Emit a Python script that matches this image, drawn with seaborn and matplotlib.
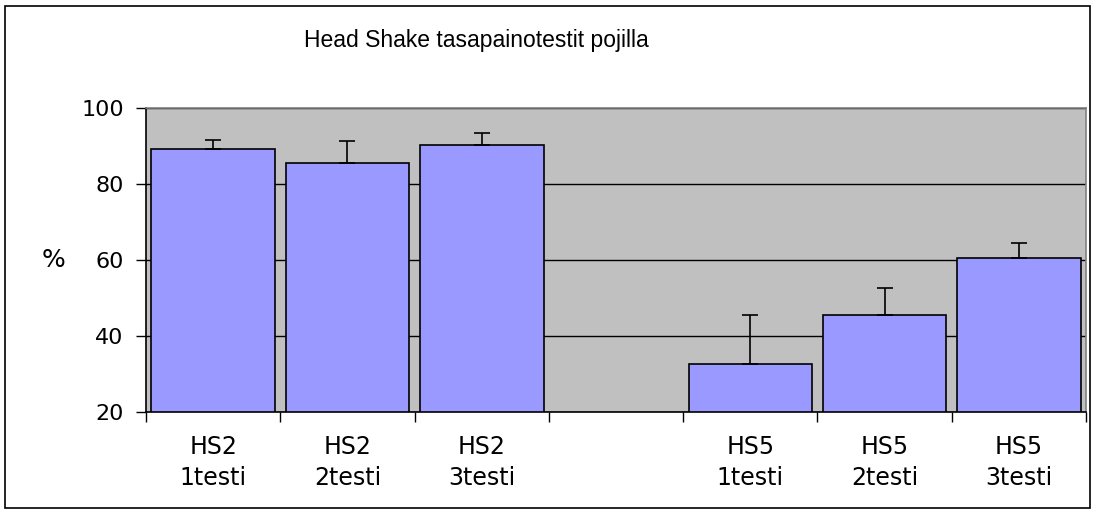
import numpy as np
import pandas as pd
import matplotlib
matplotlib.use("Agg")
import matplotlib.pyplot as plt
import seaborn as sns
from matplotlib.patches import Rectangle

categories = ["HS2\n1testi", "HS2\n2testi", "HS2\n3testi",
              "HS5\n1testi", "HS5\n2testi", "HS5\n3testi"]
values = [89.3, 85.6, 90.3, 32.8, 45.6, 60.6]
errors = [2.3, 5.6, 3.2, 12.8, 7.0, 3.9]
order = categories[:3] + [" "] + categories[3:]

df = pd.DataFrame({"test": categories, "pct": values})

sns.set_style("white")
plt.rcParams["font.family"] = ["DejaVu Sans"]
plt.rcParams["text.color"] = "black"
plt.rcParams["axes.labelcolor"] = "black"

fig = plt.figure(figsize=(10.97, 5.13), dpi=100)
ax = fig.add_axes([0.1331, 0.196, 0.8569, 0.5935])
ax.set_facecolor("#C0C0C0")

sns.barplot(data=df, x="test", y="pct", order=order, color="#9999FF",
            saturation=1, width=0.92, edgecolor="black", linewidth=1.2,
            errorbar=None, ax=ax)

# upper error bars only
xpos = [order.index(c) for c in categories]
ax.errorbar(xpos, values, yerr=[np.zeros(len(errors)), errors], fmt="none",
            ecolor="black", elinewidth=1.2, capsize=6, capthick=1.2, zorder=3)

ax.set_ylim(20, 100)
ax.set_xlim(-0.5, len(order) - 0.5)
ax.set_yticks([20, 40, 60, 80, 100])
ax.yaxis.grid(True, color="black", linewidth=1)
ax.set_axisbelow(True)

ax.set_xticks(range(len(order)))
ax.set_xticklabels(order, linespacing=1.4)
ax.set_xticks(np.arange(-0.5, len(order)), minor=True)
ax.tick_params(axis="x", which="major", length=0, pad=16, labelsize=17,
               labelcolor="black")
ax.tick_params(axis="x", which="minor", length=7, width=1, color="black",
               direction="out", bottom=True)
ax.tick_params(axis="y", length=7, width=1, color="black", direction="out",
               left=True, pad=9, labelsize=16, labelcolor="black")

for s in ["left", "bottom"]:
    ax.spines[s].set_color("black")
    ax.spines[s].set_linewidth(1.2)
for s in ["top", "right"]:
    ax.spines[s].set_color("#808080")
    ax.spines[s].set_linewidth(1.2)

ax.set_xlabel("")
ax.set_ylabel("%", rotation=0, fontsize=18, labelpad=20, va="center",
              color="black")

fig.text(0.434, 0.922, "Head Shake tasapainotestit pojilla",
         ha="center", va="center", fontsize=16.5, family="Liberation Sans",
         color="black")

fig.patches.append(Rectangle((0.005, 0.01), 0.989, 0.978, transform=fig.transFigure,
                             fill=False, edgecolor="black", linewidth=1.2))

fig.savefig("out.png", dpi=100)
